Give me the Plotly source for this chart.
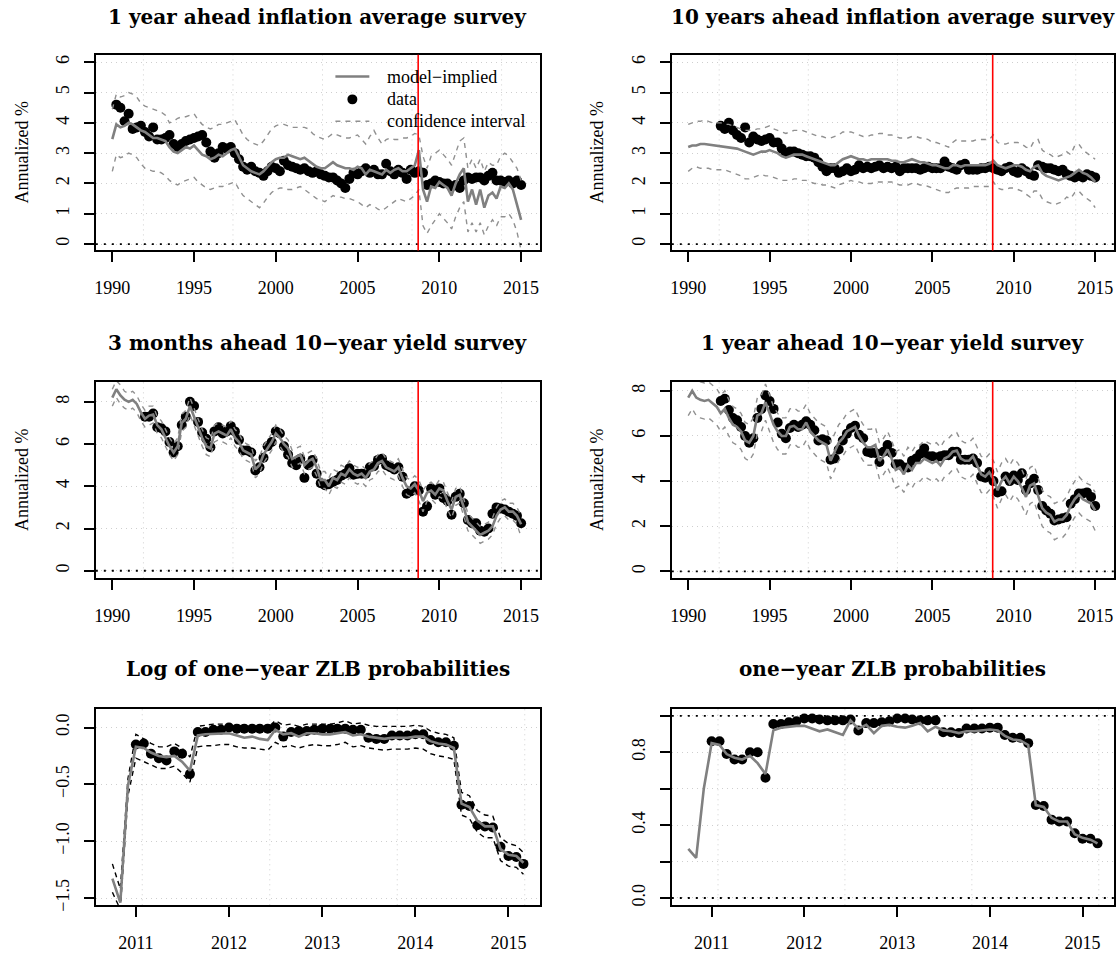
import plotly.graph_objects as go
import pandas as pd

W, H = 1120, 956
FONT = "Liberation Serif"
TFONT = "DejaVu Serif"

# ---------------- data ----------------
# quarterly grid 1990Q1 .. 2015Q1 (101 points)
inf1_model = [3.46, 3.95, 3.85, 3.9, 4.0, 3.95, 3.85, 3.75, 3.7, 3.6, 3.5, 3.5, 3.45, 3.4, 3.2, 3.05,
              3.0, 3.1, 3.2, 3.15, 3.25, 3.1, 2.95, 2.9, 2.8, 2.85, 2.95, 2.9, 3.0, 3.1, 3.15, 2.9,
              2.6, 2.5, 2.4, 2.35, 2.3, 2.4, 2.55, 2.7, 2.8, 2.85, 2.85, 2.95, 2.9, 2.85, 2.8, 2.85,
              2.75, 2.65, 2.55, 2.5, 2.5, 2.6, 2.7, 2.6, 2.55, 2.5, 2.5, 2.45, 2.55, 2.5, 2.3, 2.45,
              2.4, 2.35, 2.3, 2.45, 2.35, 2.45, 2.5, 2.4, 2.4, 2.5, 2.6, 3.1, 1.8, 1.4, 1.9, 1.85,
              2.05, 1.95, 1.85, 1.6, 2.0, 2.3, 2.5, 1.4, 1.8, 1.3, 1.8, 1.2, 1.6, 1.7, 1.5, 1.9,
              1.85, 2.0, 1.8, 1.3, 0.8]
inf1_upper = [4.45, 4.95, 4.85, 4.9, 5.0, 4.95, 4.85, 4.65, 4.55, 4.5, 4.45, 4.4, 4.35, 4.25, 4.0, 4.05,
              4.15, 4.2, 4.2, 4.25, 4.3, 4.1, 3.95, 3.85, 3.8, 3.85, 3.95, 3.95, 4.0, 4.05, 4.1, 3.85,
              3.6, 3.45, 3.35, 3.3, 3.25, 3.4, 3.6, 3.8, 3.9, 3.95, 3.95, 3.9, 3.85, 3.85, 3.85, 3.85,
              3.8, 3.65, 3.55, 3.5, 3.45, 3.55, 3.65, 3.6, 3.55, 3.5, 3.5, 3.55, 3.6, 3.45, 3.3, 3.55,
              3.75, 3.5, 3.3, 3.45, 3.5, 3.45, 3.45, 3.5, 3.5, 3.55, 3.65, 3.6, 2.9, 2.5, 2.9, 3.0,
              3.1, 2.95, 2.8, 2.6, 3.0, 3.4, 3.5, 2.5, 2.8, 2.5, 2.8, 2.4, 2.7, 2.6, 2.6, 2.9,
              3.0, 2.9, 2.7, 2.5, 2.1]
inf1_lower = [2.4, 2.95, 2.85, 2.9, 3.0, 2.95, 2.85, 2.65, 2.5, 2.45, 2.4, 2.4, 2.35, 2.25, 2.1, 2.0,
              1.95, 2.05, 2.1, 2.15, 2.2, 2.05, 1.95, 1.85, 1.8, 1.85, 1.9, 1.9, 1.95, 2.0, 2.05, 1.8,
              1.6, 1.5, 1.4, 1.3, 1.2, 1.35, 1.55, 1.7, 1.8, 1.85, 1.85, 1.8, 1.8, 1.85, 1.9, 1.8,
              1.7, 1.6, 1.5, 1.45, 1.4, 1.5, 1.6, 1.55, 1.55, 1.5, 1.5, 1.45, 1.4, 1.3, 1.2, 1.3,
              1.25, 1.15, 1.1, 1.2, 1.3, 1.4, 1.5, 1.45, 1.4, 1.5, 1.6, 1.8, 0.6, 0.35, 0.6, 0.8,
              1.0, 0.85, 0.7, 0.5, 0.9, 1.2, 1.4, 0.4, 0.7, 0.4, 0.7, 0.3, 0.6, 0.8, 0.6, 0.9,
              0.9, 1.0, 0.8, 0.4, -0.2]
# survey data, quarterly from 1990Q2
inf1_data = [4.6, 4.5, 4.05, 4.3, 3.8, 3.85, 3.9, 3.7, 3.55, 3.85, 3.45, 3.45, 3.5, 3.6, 3.3,
             3.2, 3.3, 3.4, 3.45, 3.5, 3.55, 3.6, 3.35, 3.05, 2.85, 3.0, 3.2, 3.15, 3.2, 3.0, 2.8,
             2.55, 2.45, 2.55, 2.4, 2.35, 2.25, 2.4, 2.55, 2.5, 2.4, 2.75, 2.6, 2.55, 2.5, 2.45, 2.5,
             2.4, 2.35, 2.4, 2.3, 2.25, 2.2, 2.2, 2.1, 2.0, 1.85, 2.15, 2.35, 2.3, 2.4, 2.5, 2.35,
             2.45, 2.3, 2.3, 2.65, 2.4, 2.3, 2.45, 2.35, 2.15, 2.45, 2.35, 2.4, 2.35, 1.95, 2.0, 2.1,
             2.05, 2.0, 2.0, 1.9, 1.95, 1.85, 2.1, 2.2, 2.15, 2.2, 2.2, 2.1, 2.25, 2.35, 2.1, 2.1,
             2.05, 2.1, 2.0, 2.1, 1.95]

inf10_model = [3.2, 3.25, 3.25, 3.3, 3.3, 3.28, 3.28, 3.25, 3.22, 3.2, 3.2, 3.18, 3.15, 3.1, 3.05, 3.0,
               2.95, 3.0, 3.05, 3.05, 3.1, 3.05, 3.0, 2.9, 2.85, 2.9, 2.95, 2.95, 2.95, 2.9, 2.85, 2.8,
               2.75, 2.7, 2.65, 2.6, 2.6, 2.7, 2.8, 2.85, 2.9, 2.85, 2.8, 2.8, 2.75, 2.8, 2.8, 2.8,
               2.8, 2.8, 2.75, 2.75, 2.7, 2.7, 2.75, 2.8, 2.75, 2.7, 2.7, 2.65, 2.6, 2.6, 2.55, 2.5,
               2.5, 2.6, 2.6, 2.55, 2.6, 2.6, 2.6, 2.6, 2.6, 2.6, 2.65, 2.75, 2.6, 2.55, 2.5, 2.55,
               2.6, 2.6, 2.55, 2.45, 2.4, 2.55, 2.6, 2.35, 2.25, 2.2, 2.15, 2.1, 2.15, 2.2, 2.25, 2.35,
               2.45, 2.35, 2.3, 2.2, 2.05]
inf10_upper = [3.95, 4.0, 4.05, 4.05, 4.1, 4.05, 4.0, 4.0, 4.0, 3.95, 3.95, 3.9, 3.85, 3.8, 3.75, 3.75,
               3.75, 3.8, 3.8, 3.85, 3.9, 3.8, 3.75, 3.7, 3.65, 3.7, 3.75, 3.75, 3.75, 3.7, 3.65, 3.6,
               3.55, 3.55, 3.5, 3.5, 3.55, 3.6, 3.7, 3.7, 3.7, 3.65, 3.6, 3.55, 3.55, 3.6, 3.6, 3.65,
               3.65, 3.6, 3.6, 3.55, 3.5, 3.5, 3.5, 3.55, 3.55, 3.5, 3.5, 3.45, 3.35, 3.35, 3.3, 3.25,
               3.2, 3.35, 3.45, 3.4, 3.4, 3.4, 3.4, 3.45, 3.45, 3.45, 3.45, 3.6, 3.35, 3.3, 3.3, 3.35,
               3.35, 3.35, 3.3, 3.2, 3.15, 3.4, 3.45, 3.1, 3.0, 2.95, 2.85, 2.9, 2.95, 3.05, 2.95, 3.25,
               3.3, 3.1, 3.0, 2.9, 2.8]
inf10_lower = [2.4, 2.5, 2.55, 2.5, 2.5, 2.5, 2.45, 2.45, 2.45, 2.45, 2.4, 2.35, 2.3, 2.25, 2.15, 2.15,
               2.2, 2.25, 2.3, 2.25, 2.25, 2.2, 2.15, 2.1, 2.1, 2.1, 2.15, 2.15, 2.1, 2.1, 2.05, 2.0,
               2.0, 1.95, 1.95, 1.9, 1.85, 1.95, 2.0, 2.05, 2.1, 2.05, 2.05, 2.0, 2.0, 2.0, 2.05, 2.05,
               2.05, 2.05, 2.05, 2.0, 1.95, 1.95, 1.95, 2.0, 2.0, 1.95, 1.95, 1.9, 1.85, 1.8, 1.75, 1.7,
               1.7, 1.8, 1.85, 1.85, 1.85, 1.85, 1.9, 1.9, 1.9, 1.9, 1.9, 2.05, 1.85, 1.8, 1.8, 1.85,
               1.85, 1.8, 1.75, 1.65, 1.55, 1.75, 1.75, 1.5, 1.4, 1.35, 1.3, 1.35, 1.4, 1.55, 1.5, 1.7,
               1.75, 1.6, 1.5, 1.4, 1.2]
# survey data, quarterly from 1992Q1
inf10_data = [3.9, 3.8, 4.0, 3.75, 3.6, 3.5, 3.85, 3.35, 3.55, 3.45, 3.4, 3.45, 3.5, 3.35, 3.35, 3.15,
              3.0, 3.05, 3.05, 3.0, 2.95, 2.9, 2.9, 2.85, 2.7, 2.55, 2.4, 2.5, 2.5, 2.35, 2.4, 2.5,
              2.4, 2.45, 2.6, 2.5, 2.55, 2.5, 2.55, 2.6, 2.5, 2.55, 2.5, 2.55, 2.4, 2.5, 2.5, 2.5,
              2.5, 2.45, 2.5, 2.55, 2.5, 2.5, 2.5, 2.72, 2.55, 2.5, 2.45, 2.6, 2.65, 2.45, 2.45, 2.45,
              2.5, 2.5, 2.55, 2.5, 2.45, 2.4, 2.5, 2.55, 2.4, 2.35, 2.5, 2.4, 2.3, 2.25, 2.6, 2.55,
              2.5, 2.5, 2.45, 2.4, 2.45, 2.3, 2.25, 2.2, 2.25, 2.2, 2.3, 2.25, 2.2]

y3m_model = [8.2, 8.6, 8.3, 8.1, 8.0, 8.1, 7.9, 7.5, 7.2, 7.35, 7.4, 6.9, 6.7, 6.3, 5.9, 5.6,
             5.9, 7.0, 7.2, 7.8, 7.3, 6.8, 6.3, 5.9, 5.8, 6.5, 6.6, 6.5, 6.4, 6.7, 6.3, 6.1,
             5.7, 5.6, 5.5, 4.8, 5.0, 5.5, 5.8, 6.1, 6.5, 6.3, 6.0, 5.8, 5.3, 5.4, 5.5, 5.0,
             5.2, 5.3, 4.9, 4.3, 4.3, 4.0, 4.4, 4.3, 4.6, 4.5, 4.8, 4.6, 4.5, 4.6, 4.4, 4.7,
             4.8, 5.1, 5.2, 4.9, 4.8, 4.7, 4.9, 4.4, 4.0, 3.9, 4.1, 3.8, 3.3, 3.7, 3.8, 3.6,
             3.9, 3.8, 3.3, 2.9, 3.5, 3.6, 3.0, 2.3, 2.1, 1.9, 1.7, 1.8, 1.9, 2.1, 2.6, 2.9,
             3.0, 2.8, 2.8, 2.6, 2.2]
y3m_upper = [8.6, 9.0, 8.8, 8.5, 8.4, 8.5, 8.3, 7.9, 7.6, 7.8, 7.8, 7.3, 7.1, 6.7, 6.3, 6.0,
             6.3, 7.4, 7.6, 8.2, 7.7, 7.2, 6.7, 6.3, 6.2, 6.9, 7.0, 6.9, 6.8, 7.1, 6.7, 6.5,
             6.1, 6.0, 5.9, 5.2, 5.4, 5.9, 6.2, 6.5, 6.9, 6.7, 6.4, 6.2, 5.7, 5.8, 5.9, 5.4,
             5.6, 5.7, 5.3, 4.7, 4.7, 4.4, 4.8, 4.7, 5.0, 4.9, 5.2, 5.0, 4.9, 5.0, 4.8, 5.1,
             5.2, 5.5, 5.6, 5.3, 5.2, 5.1, 5.3, 4.8, 4.4, 4.3, 4.5, 4.3, 3.8, 4.1, 4.2, 4.0,
             4.3, 4.2, 3.7, 3.3, 3.9, 4.0, 3.4, 2.7, 2.5, 2.3, 2.1, 2.2, 2.3, 2.5, 3.0, 3.3,
             3.4, 3.2, 3.2, 3.0, 2.6]
y3m_lower = [7.8, 8.2, 7.9, 7.7, 7.6, 7.7, 7.5, 7.1, 6.8, 6.9, 7.0, 6.5, 6.3, 5.9, 5.5, 5.2,
             5.5, 6.6, 6.8, 7.4, 6.9, 6.4, 5.9, 5.5, 5.4, 6.1, 6.2, 6.1, 6.0, 6.3, 5.9, 5.7,
             5.3, 5.2, 5.1, 4.4, 4.6, 5.1, 5.4, 5.7, 6.1, 5.9, 5.6, 5.4, 4.9, 5.0, 5.1, 4.6,
             4.8, 4.9, 4.5, 3.9, 3.9, 3.6, 4.0, 3.9, 4.2, 4.1, 4.4, 4.2, 4.1, 4.2, 4.0, 4.3,
             4.4, 4.7, 4.8, 4.5, 4.4, 4.3, 4.5, 4.0, 3.6, 3.5, 3.7, 3.3, 2.8, 3.3, 3.4, 3.2,
             3.5, 3.4, 2.9, 2.5, 3.1, 3.2, 2.6, 1.9, 1.7, 1.5, 1.3, 1.4, 1.5, 1.7, 2.2, 2.5,
             2.6, 2.4, 2.4, 2.2, 1.6]
y3m_data = [7.3, 7.3, 7.45, 6.8, 6.75, 6.6, 6.1, 5.6, 5.9, 6.9, 7.3, 8.0, 7.8, 7.05, 6.55, 6.25,
            5.85, 6.6, 6.8, 6.5, 6.6, 6.85, 6.6, 6.2, 5.7, 5.7, 5.6, 4.75, 4.9, 5.35, 5.9, 6.1,
            6.6, 6.5, 5.9, 5.5, 5.1, 5.0, 5.3, 4.4, 5.0, 5.25, 4.6, 4.15, 4.05, 4.1, 4.2, 4.3,
            4.5, 4.6, 4.85, 4.55, 4.6, 4.6, 4.6, 4.9, 4.95, 5.25, 5.3, 5.0, 4.9, 4.8, 4.9, 4.45,
            3.65, 3.75, 4.0, 3.8, 2.8, 3.05, 3.9, 3.6, 3.9, 3.45, 3.3, 2.65, 3.5, 3.65, 3.2, 2.4,
            2.25, 2.25, 1.9, 1.85, 2.0, 2.7, 3.0, 2.95, 2.9, 2.8, 2.7, 2.6, 2.25]

y1y_model = [7.7, 8.0, 7.7, 7.6, 7.55, 7.6, 7.45, 7.3, 7.0, 7.2, 6.8, 6.5, 6.4, 6.2, 5.8, 5.7,
             6.0, 6.9, 7.0, 7.5, 7.0, 6.5, 6.2, 6.0, 6.0, 6.4, 6.45, 6.3, 6.3, 6.6, 6.2, 6.0,
             5.8, 5.7, 5.6, 4.9, 5.3, 5.7, 5.9, 6.2, 6.3, 6.4, 6.0, 5.7, 5.5, 5.5, 5.6, 4.9,
             5.1, 5.4, 5.0, 4.5, 4.6, 4.3, 4.7, 4.5, 4.8, 4.8, 5.0, 4.9, 4.8, 4.9, 4.7, 5.0,
             5.1, 5.3, 5.35, 5.0, 4.9, 4.9, 5.1, 4.7, 4.3, 4.2, 4.4, 4.1, 3.6, 4.0, 4.2, 3.9,
             4.2, 4.0, 3.7, 3.3, 3.8, 3.9, 3.4, 2.8, 2.6, 2.5, 2.2, 2.3, 2.3, 2.5, 2.9, 3.2,
             3.4, 3.2, 3.1, 3.0, 2.7]
y1y_upper = [8.5, 8.8, 8.5, 8.4, 8.35, 8.4, 8.25, 8.1, 7.8, 8.0, 7.6, 7.3, 7.2, 7.0, 6.6, 6.5,
             6.8, 7.7, 7.8, 8.3, 7.8, 7.3, 7.0, 6.8, 6.8, 7.2, 7.25, 7.1, 7.1, 7.4, 7.0, 6.8,
             6.6, 6.5, 6.4, 5.7, 6.1, 6.5, 6.7, 7.0, 7.1, 7.2, 6.8, 6.5, 6.3, 6.3, 6.4, 5.7,
             5.9, 6.2, 5.8, 5.3, 5.4, 5.1, 5.5, 5.3, 5.6, 5.6, 5.8, 5.7, 5.6, 5.7, 5.5, 5.8,
             5.9, 6.1, 6.15, 5.8, 5.7, 5.7, 5.9, 5.5, 5.1, 5.0, 5.2, 4.9, 4.4, 4.8, 5.0, 4.7,
             5.0, 4.8, 4.5, 4.1, 4.6, 4.7, 4.2, 3.6, 3.4, 3.3, 3.0, 3.1, 3.1, 3.3, 3.7, 4.0,
             4.2, 4.0, 3.9, 3.8, 3.5]
y1y_lower = [6.9, 7.2, 6.9, 6.8, 6.75, 6.8, 6.65, 6.5, 6.2, 6.4, 6.0, 5.7, 5.6, 5.4, 5.0, 4.9,
             5.2, 6.1, 6.2, 6.7, 6.2, 5.7, 5.4, 5.2, 5.2, 5.6, 5.65, 5.5, 5.5, 5.8, 5.4, 5.2,
             5.0, 4.9, 4.8, 4.1, 4.5, 4.9, 5.1, 5.4, 5.5, 5.6, 5.2, 4.9, 4.7, 4.7, 4.8, 4.1,
             4.3, 4.6, 4.2, 3.7, 3.8, 3.5, 3.9, 3.7, 4.0, 4.0, 4.2, 4.1, 4.0, 4.1, 3.9, 4.2,
             4.3, 4.5, 4.55, 4.2, 4.1, 4.1, 4.3, 3.9, 3.5, 3.4, 3.6, 3.3, 2.8, 3.2, 3.4, 3.1,
             3.4, 3.2, 2.9, 2.5, 3.0, 3.1, 2.6, 2.0, 1.8, 1.7, 1.4, 1.5, 1.5, 1.7, 2.1, 2.4,
             2.6, 2.4, 2.3, 2.2, 1.8]
y1y_data = [7.55, 7.65, 7.15, 6.8, 6.7, 6.4, 6.0, 5.7, 5.9, 6.8, 7.2, 7.8, 7.55, 7.2, 6.6, 6.1,
            5.9, 6.35, 6.5, 6.4, 6.5, 6.65, 6.5, 6.25, 5.8, 5.85, 5.8, 4.95, 5.0, 5.4, 5.8, 6.1,
            6.35, 6.45, 6.05, 5.9, 5.3, 5.25, 5.25, 4.85, 5.3, 5.6, 5.25, 4.75, 4.75, 4.6, 4.6, 4.9,
            5.0, 5.2, 5.45, 5.1, 5.1, 5.05, 5.1, 5.15, 5.15, 5.3, 5.3, 4.95, 4.95, 4.95, 5.0, 4.8,
            4.2, 4.15, 4.4, 4.0, 3.5, 3.55, 4.2, 4.0, 4.25, 4.05, 4.35, 3.6, 3.9, 4.1, 3.6, 2.9,
            2.7, 2.55, 2.25, 2.3, 2.35, 2.4, 3.0, 3.2, 3.45, 3.45, 3.5, 3.3, 2.9]

# monthly grid Oct 2010 .. Mar 2015 (54 points); survey data from Jan 2011
zlb_log_model = [-1.33, -1.54, -0.51, -0.17, -0.18, -0.22, -0.25, -0.26, -0.25, -0.3, -0.38, -0.07,
                 -0.06, -0.055, -0.05, -0.05, -0.07, -0.09, -0.08, -0.1, -0.11, -0.02, -0.06, -0.05,
                 -0.08, -0.05, -0.05, -0.06, -0.06, -0.05, -0.04, -0.07, -0.06, -0.08, -0.09, -0.1,
                 -0.09, -0.09, -0.09, -0.08, -0.08, -0.12, -0.14, -0.15, -0.18, -0.67, -0.7, -0.82,
                 -0.87, -0.87, -1.07, -1.12, -1.13, -1.19]
zlb_log_upper = [-1.2, -1.42, -0.45, -0.06, -0.1, -0.14, -0.17, -0.17, -0.14, -0.18, -0.26, 0.01,
                 0.02, 0.03, 0.03, 0.03, 0.02, 0.01, 0.0, 0.0, 0.0, 0.06, 0.02, 0.03,
                 0.01, 0.03, 0.03, 0.03, 0.03, 0.04, 0.06, 0.03, 0.04, 0.02, 0.01, 0.01,
                 0.01, 0.01, 0.01, 0.02, 0.01, -0.03, -0.05, -0.06, -0.09, -0.57, -0.6, -0.73,
                 -0.77, -0.78, -0.97, -1.02, -1.04, -1.1]
zlb_log_lower = [-1.45, -1.6, -0.6, -0.27, -0.3, -0.33, -0.36, -0.36, -0.34, -0.4, -0.48, -0.17,
                 -0.16, -0.16, -0.15, -0.15, -0.17, -0.18, -0.18, -0.19, -0.2, -0.13, -0.17, -0.16,
                 -0.18, -0.16, -0.15, -0.16, -0.16, -0.15, -0.13, -0.17, -0.16, -0.18, -0.19, -0.2,
                 -0.19, -0.19, -0.19, -0.18, -0.19, -0.23, -0.25, -0.26, -0.28, -0.77, -0.8, -0.92,
                 -0.97, -0.97, -1.17, -1.22, -1.23, -1.29]
zlb_log_data = [-0.15, -0.14, -0.23, -0.27, -0.29, -0.21, -0.23, -0.41, -0.04, -0.04, -0.02, -0.02,
                0.0, -0.01, -0.01, -0.01, -0.01, -0.01, 0.0, -0.08, -0.04, -0.03, -0.03, -0.02,
                -0.01, -0.01, -0.01, -0.01, -0.02, -0.02, -0.09, -0.1, -0.1, -0.07, -0.07, -0.07,
                -0.06, -0.06, -0.11, -0.13, -0.13, -0.16, -0.68, -0.69, -0.86, -0.87, -0.88, -1.05,
                -1.13, -1.14, -1.2]
zlb_prob_model = [0.27, 0.22, 0.60, 0.85, 0.84, 0.79, 0.77, 0.76, 0.78, 0.74, 0.68, 0.92,
                  0.935, 0.94, 0.945, 0.945, 0.93, 0.915, 0.925, 0.91, 0.895, 0.975, 0.93, 0.95,
                  0.905, 0.945, 0.95, 0.94, 0.935, 0.945, 0.96, 0.915, 0.94, 0.92, 0.915, 0.905,
                  0.915, 0.915, 0.92, 0.925, 0.92, 0.89, 0.87, 0.865, 0.84, 0.51, 0.5, 0.44,
                  0.42, 0.42, 0.35, 0.33, 0.32, 0.3]
zlb_prob_data = [0.86, 0.86, 0.79, 0.76, 0.76, 0.8, 0.8, 0.66, 0.955, 0.955, 0.965, 0.97,
                 0.985, 0.985, 0.98, 0.975, 0.975, 0.975, 0.98, 0.92, 0.96, 0.96, 0.965, 0.97,
                 0.985, 0.985, 0.98, 0.975, 0.975, 0.975, 0.91, 0.91, 0.905, 0.93, 0.93, 0.93,
                 0.935, 0.935, 0.895, 0.88, 0.88, 0.85, 0.51, 0.505, 0.43, 0.42, 0.42, 0.355,
                 0.325, 0.325, 0.30]

year_ticks = ["1990", "1995", "2000", "2005", "2010", "2015"]
zlb_year_ticks = ["2011", "2012", "2013", "2014", "2015"]
titles = ["1 year ahead inflation average survey",
          "10 years ahead inflation average survey",
          "3 months ahead 10\u2212year yield survey",
          "1 year ahead 10\u2212year yield survey",
          "Log of one\u2212year ZLB probabilities",
          "one\u2212year ZLB probabilities"]
legend_labels = ["model\u2212implied", "data", "confidence interval"]
break_date = "2008-09-15"

# ---------------- layout helpers ----------------
qd = pd.date_range("1990-01-01", periods=101, freq="QS").strftime("%Y-%m-%d").tolist()
md = pd.date_range("2010-10-01", periods=54, freq="MS").strftime("%Y-%m-%d").tolist()

GRAY = "#808080"
BAND = "#909090"
GRID = "#cfcfcf"

boxes = {1: ((94, 539), (55, 252)), 2: ((671, 1114), (55, 252)),
         3: ((94, 539), (384, 582)), 4: ((671, 1114), (384, 582)),
         5: ((94, 539), (713, 911)), 6: ((671, 1114), (713, 911))}


def xdom(i):
    a, b = boxes[i][0]
    return [a / W, b / W]


def ydom(i):
    a, b = boxes[i][1]
    return [1 - b / H, 1 - a / H]


fig = go.Figure()


def ax(i):
    return ("x" if i == 1 else f"x{i}"), ("y" if i == 1 else f"y{i}")


def add_panel(i, dates, model, upper, lower, data_dates, data, band_color, band_dash):
    xa, ya = ax(i)
    fig.add_trace(go.Scatter(x=data_dates[:len(data)], y=data, mode="markers",
                             marker=dict(color="black", size=10), xaxis=xa, yaxis=ya,
                             showlegend=False, cliponaxis=True))
    if upper is not None:
        for band in (upper, lower):
            fig.add_trace(go.Scatter(x=dates[:len(band)], y=band, mode="lines",
                                     line=dict(color=band_color, width=1.4, dash=band_dash),
                                     xaxis=xa, yaxis=ya, showlegend=False))
    fig.add_trace(go.Scatter(x=dates[:len(model)], y=model, mode="lines",
                             line=dict(color=GRAY, width=2.6), xaxis=xa, yaxis=ya,
                             showlegend=False))


add_panel(1, qd, inf1_model, inf1_upper, inf1_lower, qd[1:], inf1_data, BAND, "5px,5px")
add_panel(2, qd, inf10_model, inf10_upper, inf10_lower, qd[8:], inf10_data, BAND, "5px,5px")
add_panel(3, qd, y3m_model, y3m_upper, y3m_lower, qd[8:], y3m_data, BAND, "5px,5px")
add_panel(4, qd, y1y_model, y1y_upper, y1y_lower, qd[8:], y1y_data, BAND, "5px,5px")
add_panel(5, md, zlb_log_model, zlb_log_upper, zlb_log_lower, md[3:], zlb_log_data, "black", "5px,4px")
add_panel(6, md, zlb_prob_model, None, None, md[3:], zlb_prob_data, BAND, "5px,5px")

top_range = ["1988-12-29", "2016-02-28"]
bot_range = ["2010-07-28", "2015-05-05"]

yranges = {1: [-0.21, 6.25], 2: [-0.21, 6.25], 3: [-0.36, 8.96], 4: [-0.31, 8.41],
           5: [-1.564, 0.167], 6: [-0.04, 1.04]}
yticks = {1: ([0, 1, 2, 3, 4, 5, 6], ["0", "1", "2", "3", "4", "5", "6"]),
          2: ([0, 1, 2, 3, 4, 5, 6], ["0", "1", "2", "3", "4", "5", "6"]),
          3: ([0, 2, 4, 6, 8], ["0", "2", "4", "6", "8"]),
          4: ([0, 2, 4, 6, 8], ["0", "2", "4", "6", "8"]),
          5: ([-1.5, -1.0, -0.5, 0.0], ["\u22121.5", "\u22121.0", "\u22120.5", "0.0"]),
          6: ([0, 0.2, 0.4, 0.6, 0.8, 1.0], ["0.0", "", "0.4", "", "0.8", ""])}

tickfont = dict(family=FONT, size=18, color="black")
layout = dict(width=W, height=H, margin=dict(l=0, r=0, t=0, b=0),
              paper_bgcolor="white", plot_bgcolor="white", showlegend=False)

shapes = []
annotations = []
for i in range(1, 7):
    xa, ya = ax(i)
    xkey = "xaxis" if i == 1 else f"xaxis{i}"
    ykey = "yaxis" if i == 1 else f"yaxis{i}"
    if i <= 4:
        tv = [f"{t}-01-01" for t in year_ticks]
        tt = year_ticks
        rng = top_range
        grid_days = [8000, 10000, 12000, 14000, 16000]
    else:
        tv = [f"{t}-01-01" for t in zlb_year_ticks]
        tt = zlb_year_ticks
        rng = bot_range
        grid_days = [15000, 15500, 16000, 16500]
    layout[xkey] = dict(domain=xdom(i), range=rng, type="date", anchor=ya,
                        tickmode="array", tickvals=tv, ticktext=tt, showgrid=False,
                        zeroline=False, showline=True, mirror=True, linecolor="black",
                        linewidth=1.5, ticks="outside", ticklen=10, tickwidth=1.5,
                        tickcolor="black", tickfont=tickfont, ticklabelstandoff=10)
    layout[ykey] = dict(domain=ydom(i), range=yranges[i], anchor=xa,
                        tickmode="array", tickvals=yticks[i][0], ticktext=yticks[i][1],
                        showgrid=True, gridcolor=GRID, griddash="1px,4px", gridwidth=1,
                        zeroline=False, showline=True, mirror=True, linecolor="black",
                        linewidth=1.5, ticks="outside", ticklen=10, tickwidth=1.5,
                        tickcolor="black", tickfont=tickfont, tickangle=-90,
                        ticklabelstandoff=8)
    for d in grid_days:
        gd = (pd.Timestamp("1970-01-01") + pd.Timedelta(days=d)).strftime("%Y-%m-%d")
        shapes.append(dict(type="line", xref=xa, yref=f"{ya} domain", x0=gd, x1=gd, y0=0, y1=1,
                           line=dict(color=GRID, width=1, dash="1px,4px"), layer="below"))
    # zero / reference dotted lines
    refs = [0.0] if i <= 4 else ([] if i == 5 else [0.0, 1.0])
    for r in refs:
        shapes.append(dict(type="line", xref=f"{xa} domain", yref=ya, x0=0, x1=1, y0=r, y1=r,
                           line=dict(color="black", width=1.8, dash="2px,6px"), layer="above"))
    if i <= 4:
        shapes.append(dict(type="line", xref=xa, yref=f"{ya} domain", x0=break_date, x1=break_date,
                           y0=0, y1=1, line=dict(color="red", width=1.6), layer="above"))
        yc = 1 - (sum(boxes[i][1]) / 2) / H
        xt = 20 if i in (1, 3) else 596
        annotations.append(dict(text="Annualized %", x=xt / W, y=yc, xref="paper", yref="paper",
                                textangle=-90, showarrow=False, xanchor="center", yanchor="middle",
                                font=dict(family=FONT, size=18, color="black")))
    # title
    xc = sum(boxes[i][0]) / 2 / W
    ty = {1: 17, 2: 17, 3: 345, 4: 345, 5: 673, 6: 673}[i]
    annotations.append(dict(text=titles[i - 1], x=xc, y=1 - ty / H, xref="paper", yref="paper",
                            showarrow=False, xanchor="center", yanchor="middle",
                            font=dict(family=TFONT, size=20, color="black", weight="bold")))

# custom legend in panel 1
def P(x, y):
    return x / W, 1 - y / H

lx0, lx1 = 334, 368
for (yy, kind) in [(77, "solid"), (122, "dash")]:
    a0 = P(lx0, yy); a1 = P(lx1, yy)
    shapes.append(dict(type="line", xref="paper", yref="paper", x0=a0[0], x1=a1[0], y0=a0[1], y1=a1[1],
                       line=dict(color=GRAY if kind == "solid" else BAND,
                                 width=2.6 if kind == "solid" else 1.4,
                                 dash="solid" if kind == "solid" else "5px,5px"), layer="above"))
c0 = P(346, 95); c1 = P(356, 105)
shapes.append(dict(type="circle", xref="paper", yref="paper", x0=c0[0], x1=c1[0], y0=c1[1], y1=c0[1],
                   fillcolor="black", line=dict(color="black", width=0), layer="above"))
for lab, yy in zip(legend_labels, [77, 100, 122]):
    p = P(384, yy)
    annotations.append(dict(text=lab, x=p[0], y=p[1], xref="paper", yref="paper", showarrow=False,
                            xanchor="left", yanchor="middle",
                            font=dict(family=FONT, size=18, color="black")))

layout["shapes"] = shapes
layout["annotations"] = annotations
fig.update_layout(**layout)
fig.write_html("out.html", config={"responsive": False, "displayModeBar": False},
               post_script="document.body.style.margin='0px';document.body.style.overflow='hidden';")
